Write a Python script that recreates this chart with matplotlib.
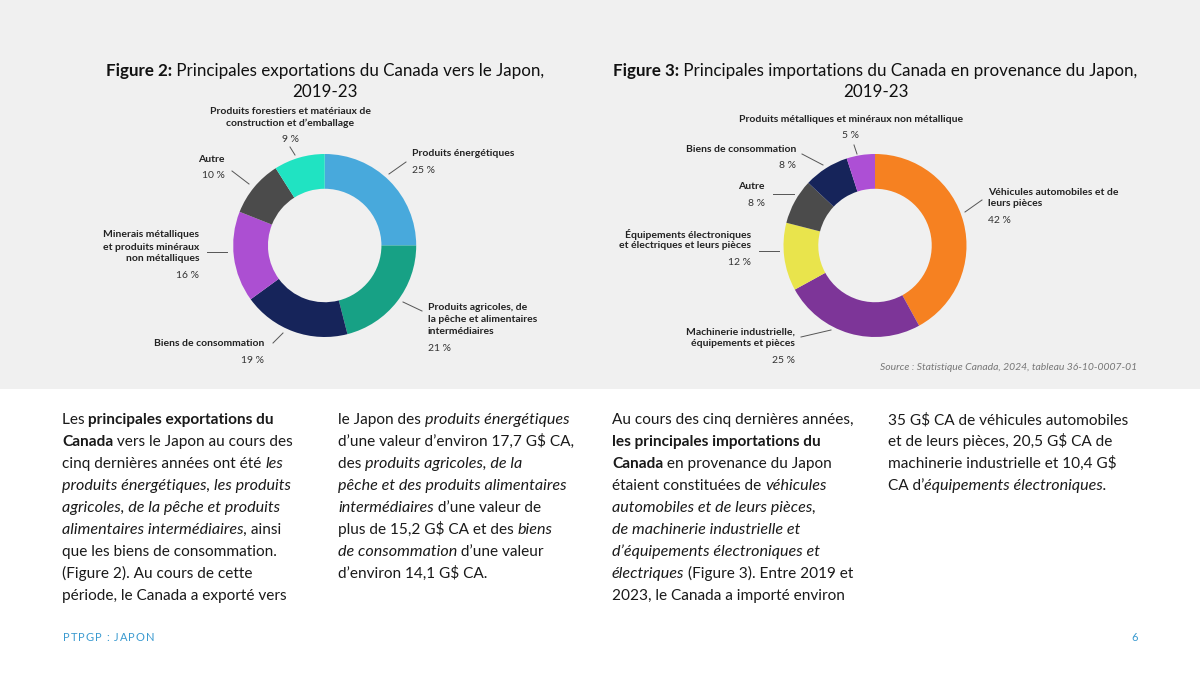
import re
import matplotlib
matplotlib.use("Agg")
import matplotlib.pyplot as plt
from matplotlib.lines import Line2D
from matplotlib.patches import Rectangle

W, H = 1200, 675

# Figure 2 : exportations
exp_labels = ["Produits énergétiques",
              "Produits agricoles, de\nla pêche et alimentaires\nintermédiaires",
              "Biens de consommation",
              "Minerais métalliques\net produits minéraux\nnon métalliques",
              "Autre",
              "Produits forestiers et matériaux de\nconstruction et d’emballage"]
exp_values = [25, 21, 19, 16, 10, 9]
exp_colors = ["#48a9dc", "#17a185", "#16245a", "#ac4fd2", "#4b4b4b", "#20e3c2"]

# Figure 3 : importations
imp_labels = ["Véhicules automobiles et de\nleurs pièces",
              "Machinerie industrielle,\néquipements et pièces",
              "Équipements électroniques\net électriques et leurs pièces",
              "Autre",
              "Biens de consommation",
              "Produits métalliques et minéraux non métallique"]
imp_values = [42, 25, 12, 8, 8, 5]
imp_colors = ["#f68121", "#7d3598", "#e9e44c", "#4b4b4b", "#16245a", "#ad4fd5"]

# position des étiquettes (px) : x, y de la 1re ligne, alignement, ligne de rappel
exp_pos = [(412, 154, "left", (389, 174, 406, 162)),
           (428, 308, "left", (403, 302, 422, 311)),
           (264, 344, "right", (273, 343, 283, 333)),
           (199, 235, "right", (207, 252, 227, 252)),
           (225, 159, "right", (232, 171, 249, 184)),
           (290, 111, "center", (290, 147, 295, 155))]
imp_pos = [(988, 192, "left", (965, 212, 982, 200)),
           (795, 332, "right", (801, 337, 831, 330)),
           (751, 234, "right", (759, 251, 779, 251)),
           (765, 187, "right", (773, 194, 794, 194)),
           (796, 149, "right", (802, 154, 823, 165)),
           (851, 119, "center", (854, 145, 857, 154))]

col1 = ["Les **principales exportations du**",
        "**Canada** vers le Japon au cours des",
        "cinq dernières années ont été *les*",
        "*produits énergétiques, les produits*",
        "*agricoles, de la pêche et produits*",
        "*alimentaires intermédiaires,* ainsi",
        "que les biens de consommation.",
        "(Figure 2). Au cours de cette",
        "période, le Canada a exporté vers"]
col2 = ["le Japon des *produits énergétiques*",
        "d’une valeur d’environ 17,7 G$ CA,",
        "des *produits agricoles, de la*",
        "*pêche et des produits alimentaires*",
        "*intermédiaires* d’une valeur de",
        "plus de 15,2 G$ CA et des *biens*",
        "*de consommation* d’une valeur",
        "d’environ 14,1 G$ CA."]
col3 = ["Au cours des cinq dernières années,",
        "**les principales importations du**",
        "**Canada** en provenance du Japon",
        "étaient constituées de *véhicules*",
        "*automobiles et de leurs pièces,*",
        "*de machinerie industrielle et*",
        "*d’équipements électroniques et*",
        "*électriques* (Figure 3). Entre 2019 et",
        "2023, le Canada a importé environ"]
col4 = ["35 G$ CA de véhicules automobiles",
        "et de leurs pièces, 20,5 G$ CA de",
        "machinerie industrielle et 10,4 G$",
        "CA d’*équipements électroniques.*"]

plt.rcParams["font.family"] = ["Lato", "DejaVu Sans"]

fig = plt.figure(figsize=(12, 6.75), dpi=100)
fig.patch.set_facecolor("white")
renderer = fig.canvas.get_renderer()


def fx(x):
    return x / W


def fy(y):
    return 1 - y / H


fig.patches.append(Rectangle((0, fy(389)), 1, 389 / H, transform=fig.transFigure,
                             facecolor="#f0f0f0", edgecolor="none", zorder=-5))


def parse(line):
    segs = []
    for part in re.split(r"(\*\*.+?\*\*|\*.+?\*)", line):
        if not part:
            continue
        if part.startswith("**"):
            segs.append((part[2:-2], "bold", "normal"))
        elif part.startswith("*"):
            segs.append((part[1:-1], "normal", "italic"))
        else:
            segs.append((part, "normal", "normal"))
    return segs


def seg_width(s, prop):
    w1 = renderer.get_text_width_height_descent("|" + s + "|", prop, ismath=False)[0]
    w0 = renderer.get_text_width_height_descent("||", prop, ismath=False)[0]
    return w1 - w0


def rich(x, y, line, size, color="#1a1a1a", ha="left", it_scale=1.0):
    segs = parse(line)
    texts = []
    for s, w, st in segs:
        sz = size * it_scale if st == "italic" else size
        t = fig.text(0, fy(y), s, fontsize=sz, fontweight=w, fontstyle=st,
                     color=color, va="baseline", ha="left", parse_math=False)
        texts.append((t, seg_width(s, t.get_fontproperties())))
    total = sum(w for _, w in texts)
    if ha == "center":
        x = x - total / 2
    for t, w in texts:
        t.set_x(fx(x))
        x += w


def donut(cx, cy, r, values, colors, labels, pos):
    ax = fig.add_axes([fx(cx - r), fy(cy + r), 2 * r / W, 2 * r / H])
    ax.pie(values, colors=colors, startangle=90, counterclock=False,
           wedgeprops=dict(width=0.38, edgecolor="none", linewidth=0))
    ax.set_xlim(-1, 1)
    ax.set_ylim(-1, 1)
    ax.set_aspect("equal")
    ax.axis("off")
    for lab, v, (x, y, ha, ln) in zip(labels, values, pos):
        rows = lab.split("\n")
        for i, row in enumerate(rows):
            fig.text(fx(x), fy(y + 12 * i), row, fontsize=7.5, fontweight="bold",
                     color="#222222", ha=ha, va="center")
        fig.text(fx(x), fy(y + 12 * (len(rows) - 1) + 16.5), f"{v} %", fontsize=7.5,
                 color="#333333", ha=ha, va="center")
        fig.add_artist(Line2D([fx(ln[0]), fx(ln[2])], [fy(ln[1]), fy(ln[3])],
                              transform=fig.transFigure, color="#555555", lw=0.7))


donut(324.7, 245.5, 91.5, exp_values, exp_colors, exp_labels, exp_pos)
donut(875, 245.5, 91.5, imp_values, imp_colors, imp_labels, imp_pos)

# titres
rich(325, 76, "**Figure 2:** Principales exportations du Canada vers le Japon,", 12.25, "#111111", "center")
rich(325, 97, "2019-23", 12.25, "#111111", "center")
rich(875.5, 76, "**Figure 3:** Principales importations du Canada en provenance du Japon,", 12.25, "#111111", "center")
rich(875.5, 97, "2019-23", 12.25, "#111111", "center")

fig.text(fx(1137), fy(367), "Source : Statistique Canada, 2024, tableau 36-10-0007-01",
         fontsize=7.5, fontstyle="italic", color="#777777", ha="right", va="center")

# texte
for cx, col in [(62, col1), (338, col2), (612, col3), (888, col4)]:
    for i, line in enumerate(col):
        rich(cx, 424 + 22 * i, line, 11.1, it_scale=1.05)

# pied de page, lettres espacées
xpos = 63
for ch in "PTPGP : JAPON":
    t = fig.text(fx(xpos), fy(641), ch, fontsize=8, color="#3a9ad0",
                 ha="left", va="baseline")
    xpos += seg_width(ch, t.get_fontproperties()) + 1.0
fig.text(fx(1135), fy(641), "6", fontsize=8, color="#3a9ad0", ha="center", va="baseline")

fig.savefig("out.png", dpi=100)
